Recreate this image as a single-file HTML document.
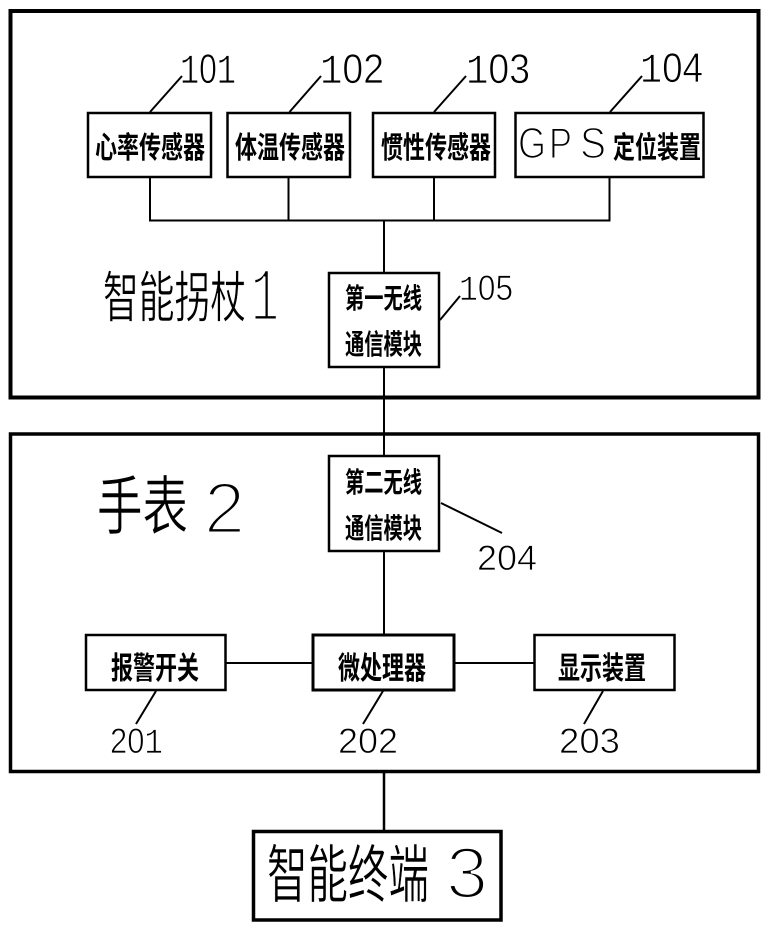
<!DOCTYPE html>
<html lang="zh">
<head>
<meta charset="utf-8">
<title>Diagram</title>
<style>
html,body{margin:0;padding:0;background:#fff;}
svg{display:block;}
.b{font-family:"Liberation Sans","Noto Sans CJK SC",sans-serif;font-weight:700;fill:#000;}
.r{font-family:"Liberation Sans","Noto Sans CJK SC",sans-serif;font-weight:400;fill:#000;stroke:#fff;stroke-width:.6;}
.n{font-family:"Liberation Sans",sans-serif;font-weight:400;fill:#000;stroke:#fff;stroke-width:.8;}
.g{font-family:"Liberation Sans",sans-serif;font-weight:400;fill:#000;stroke:#fff;stroke-width:1.6;}
.h{font-family:"Liberation Sans",sans-serif;font-weight:400;fill:#000;stroke:#fff;stroke-width:3;}
.m{font-family:"Liberation Mono",monospace;}
</style>
</head>
<body>
<svg width="769" height="930" viewBox="0 0 769 930" xmlns="http://www.w3.org/2000/svg">
<rect width="769" height="930" fill="#fff"/>
<g fill="none" stroke="#000">
  <rect x="10.500" y="11" width="748" height="386.500" stroke-width="4"/>
  <rect x="10.500" y="434" width="748" height="337.500" stroke-width="3.500"/>
  <rect x="253.500" y="831.500" width="247.500" height="88.500" stroke-width="3.500"/>
  <g stroke-width="2.500">
    <rect x="88" y="113" width="123" height="64"/>
    <rect x="227.500" y="113" width="122.500" height="64"/>
    <rect x="373" y="113" width="122" height="64"/>
    <rect x="515.500" y="113" width="188" height="64"/>
    <rect x="329" y="273" width="110" height="94"/>
    <rect x="329" y="456" width="110" height="95"/>
    <rect x="86" y="635" width="139.500" height="55"/>
    <rect x="313" y="635" width="141" height="55" stroke-width="3"/>
    <rect x="534.500" y="635" width="140" height="55"/>
  </g>
  <g stroke-width="2">
    <path d="M150 178V220.500H609.500V178M288.500 178V220.500M434 178V220.500M384 220.500V272"/>
    <path d="M384 368V455M384 552V634M226 663H312M455 663H534"/>
    <path d="M384 772V830" stroke-width="2.500"/>
    <path d="M150 112L182 76M289.500 112L321 76M434 112L466 76M610 112L642 76"/>
    <path d="M440 320L460 296M441 503L502 533M156 691L136 724M383 691L363 724M603 691L584 724"/>
  </g>
</g>

<text class="n" x="180" y="83" font-size="42" textLength="56" lengthAdjust="spacingAndGlyphs"><tspan class="m">1</tspan>0<tspan class="m">1</tspan></text>
<text class="n" x="320" y="83" font-size="42" textLength="64" lengthAdjust="spacingAndGlyphs"><tspan class="m">1</tspan>02</text>
<text class="n" x="466" y="83" font-size="42" textLength="64" lengthAdjust="spacingAndGlyphs"><tspan class="m">1</tspan>03</text>
<text class="n" x="640" y="82" font-size="42" textLength="63" lengthAdjust="spacingAndGlyphs"><tspan class="m">1</tspan>04</text>
<text class="n" x="459" y="300" font-size="35" textLength="54" lengthAdjust="spacingAndGlyphs"><tspan class="m">1</tspan>05</text>
<text class="n" x="477" y="570" font-size="35" textLength="60" lengthAdjust="spacingAndGlyphs">204</text>
<text class="n" x="110" y="753" font-size="35" textLength="53" lengthAdjust="spacingAndGlyphs">20<tspan class="m">1</tspan></text>
<text class="n" x="338" y="753" font-size="35" textLength="60" lengthAdjust="spacingAndGlyphs">202</text>
<text class="n" x="559" y="753" font-size="35" textLength="61" lengthAdjust="spacingAndGlyphs">203</text>

<text class="b" x="95" y="158" font-size="30" textLength="110" lengthAdjust="spacingAndGlyphs">心率传感器</text>
<text class="b" x="235" y="158" font-size="30" textLength="110" lengthAdjust="spacingAndGlyphs">体温传感器</text>
<text class="b" x="381" y="158" font-size="30" textLength="110" lengthAdjust="spacingAndGlyphs">惯性传感器</text>
<text class="g" x="518" y="158" font-size="44" textLength="28" lengthAdjust="spacingAndGlyphs">G</text>
<text class="g" x="549" y="158" font-size="44" textLength="23" lengthAdjust="spacingAndGlyphs">P</text>
<text class="g" x="580" y="158" font-size="44" textLength="26" lengthAdjust="spacingAndGlyphs">S</text>
<text class="b" x="613" y="158" font-size="30" textLength="88" lengthAdjust="spacingAndGlyphs">定位装置</text>

<text class="b" x="345" y="308" font-size="28" textLength="77" lengthAdjust="spacingAndGlyphs">第一无线</text>
<text class="b" x="345" y="354" font-size="28" textLength="77" lengthAdjust="spacingAndGlyphs">通信模块</text>
<text class="b" x="345" y="492" font-size="28" textLength="77" lengthAdjust="spacingAndGlyphs">第二无线</text>
<text class="b" x="345" y="538" font-size="28" textLength="77" lengthAdjust="spacingAndGlyphs">通信模块</text>

<text class="b" x="111" y="679" font-size="31" textLength="88" lengthAdjust="spacingAndGlyphs">报警开关</text>
<text class="b" x="338" y="679" font-size="31" textLength="88" lengthAdjust="spacingAndGlyphs">微处理器</text>
<text class="b" x="558" y="679" font-size="31" textLength="88" lengthAdjust="spacingAndGlyphs">显示装置</text>

<text class="r" x="103" y="317" font-size="55" textLength="143" lengthAdjust="spacingAndGlyphs">智能拐杖</text>
<text class="h m" x="251" y="320" font-size="76" textLength="28" lengthAdjust="spacingAndGlyphs" style="font-family:'Liberation Mono',monospace">1</text>
<text class="r" x="97" y="529" font-size="64" textLength="91" lengthAdjust="spacingAndGlyphs">手表</text>
<text class="h" x="204" y="533" font-size="72" textLength="41" lengthAdjust="spacingAndGlyphs">2</text>
<text class="r" x="267" y="897" font-size="63" textLength="162" lengthAdjust="spacingAndGlyphs">智能终端</text>
<text class="h" x="446" y="898" font-size="72" textLength="42" lengthAdjust="spacingAndGlyphs">3</text>
</svg>
</body>
</html>
